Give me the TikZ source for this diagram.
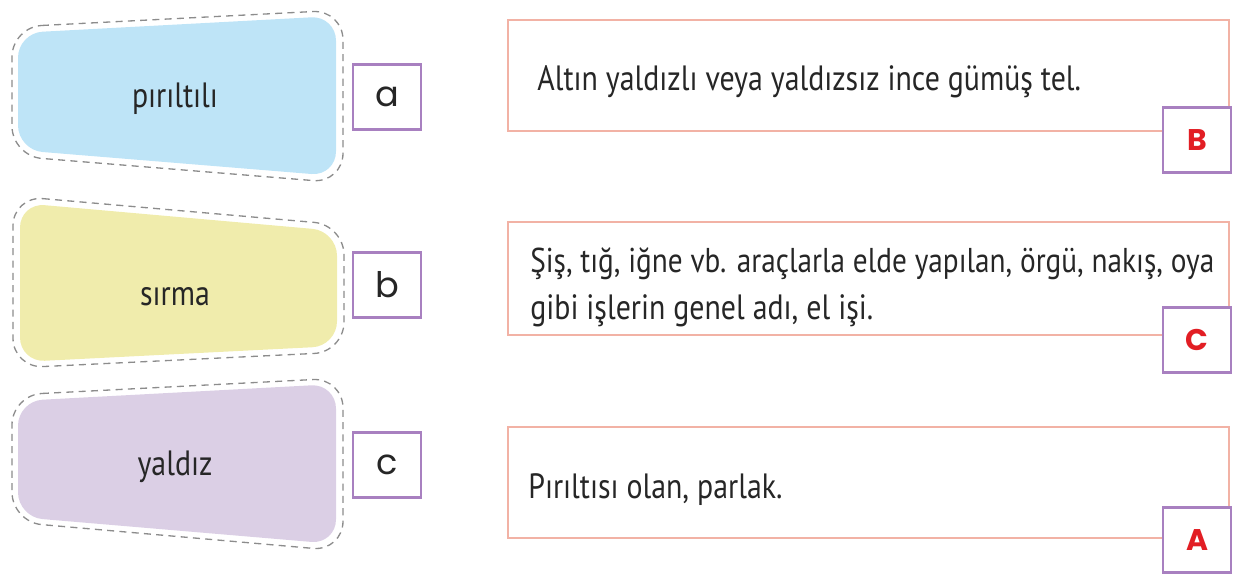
\documentclass[tikz,border=0pt]{standalone}
\usepackage{fontspec}
\setmainfont{PT Sans}[FakeStretch=0.85]
\newfontfamily\letterfont{Poppins}
\usetikzlibrary{positioning}
\definecolor{cardblue}{RGB}{190,228,247}
\definecolor{cardyellow}{RGB}{240,236,172}
\definecolor{cardlilac}{RGB}{219,207,229}
\definecolor{framepurple}{RGB}{168,128,192}
\definecolor{boxpink}{RGB}{242,178,165}
\definecolor{answerred}{RGB}{226,30,36}
\tikzstyle{card} = [rounded corners=14pt]
\tikzstyle{cutline} = [draw=black!45, dash pattern=on 4pt off 3pt, line width=0.75pt, rounded corners=17pt]
\tikzstyle{word} = [anchor=base, inner sep=0pt, font=\fontsize{20}{24}\selectfont, text=black!85]
\tikzstyle{letterbox} = [rectangle, draw=framepurple, line width=1.6pt, fill=white, minimum width=1.36cm, minimum height=1.3cm, font=\letterfont\fontsize{20}{24}\selectfont, text=black!85]
\tikzstyle{answerbox} = [rectangle, draw=framepurple, line width=1.6pt, fill=white, minimum width=1.36cm, minimum height=1.3cm, font=\letterfont\bfseries\fontsize{17}{20}\selectfont, text=answerred]
\tikzstyle{meaning} = [rectangle, draw=boxpink, line width=1.1pt, anchor=north west, minimum width=14.42cm, inner sep=0pt]
\tikzstyle{deftext} = [anchor=base west, inner sep=0pt, font=\fontsize{20}{24}\selectfont, text=black!85]

\begin{document}
\begin{tikzpicture}[x=0.02cm, y=-0.02cm]
\useasboundingbox (0,0) rectangle (1260,586);

% word cards
\draw [cutline] (12,27) -- (343,10) -- (343,183) -- (12,156) -- cycle;
\fill [cardblue, card] (18,33) -- (336,16) -- (336,176) -- (18,150) -- cycle;
\node (wordA) [word] at (175,107) {pırıltılı};
%
\draw [cutline] (13,196) -- (344,225) -- (344,352) -- (13,368) -- cycle;
\fill [cardyellow, card] (20,203) -- (337,231) -- (337,346) -- (20,362) -- cycle;
\node (wordB) [word] at (175,305) {sırma};
%
\draw [cutline] (12,395) -- (343,378) -- (343,551) -- (12,522) -- cycle;
\fill [cardlilac, card] (18,401) -- (336,384) -- (336,544) -- (18,517) -- cycle;
\node (wordC) [word] at (175,475) {yaldız};

\node (tagA) [letterbox] at (387,97) {a};
\node (tagB) [letterbox] at (387,285) {b};
\node (tagC) [letterbox] at (387,465) {c};

% meanings
\node (defB) [meaning, minimum height=2.22cm] at (507,19) {};
\node (defC) [meaning, minimum height=2.26cm] at (507,221) {};
\node (defA) [meaning, minimum height=2.22cm] at (507,426) {};

\node (textB) [deftext] at (537,90) {Altın yaldızlı veya yaldızsız ince gümüş tel.};
\node (textC) [deftext, font=\fontsize{19.6}{24}\selectfont] at (530,272) {Şiş, tığ, iğne vb. araçlarla elde yapılan, örgü, nakış, oya};
\node (textC2) [deftext] at (530,319) {gibi işlerin genel adı, el işi.};
\node (textA) [deftext] at (528,498) {Pırıltısı olan, parlak.};

\node (keyB) [answerbox] at (1197,140) {B};
\node (keyC) [answerbox] at (1197,340) {C};
\node (keyA) [answerbox] at (1197,540) {A};

\end{tikzpicture}
\end{document}
